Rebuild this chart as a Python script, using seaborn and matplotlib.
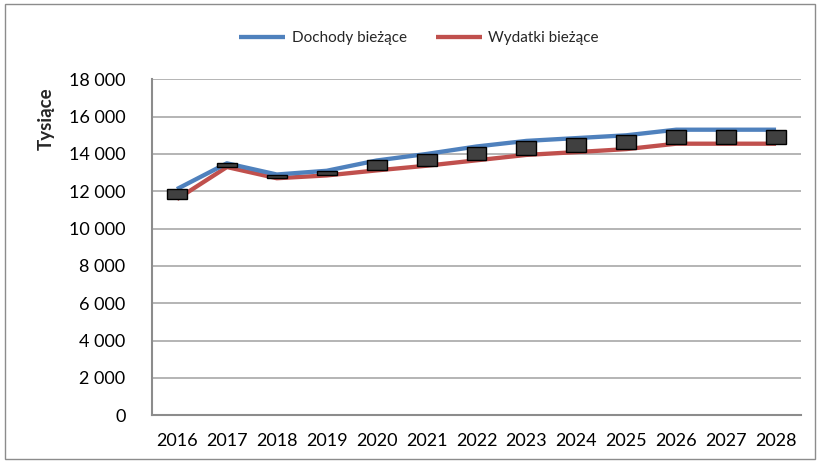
import numpy as np
import matplotlib
matplotlib.use("Agg")
import matplotlib.pyplot as plt
from matplotlib.patches import Rectangle
from matplotlib.ticker import FuncFormatter
import seaborn as sns

# Data
years = ["2016", "2017", "2018", "2019", "2020", "2021", "2022",
         "2023", "2024", "2025", "2026", "2027", "2028"]
dochody = [12120, 13500, 12900, 13100, 13650, 14000, 14400,
           14700, 14850, 15000, 15300, 15300, 15300]
wydatki = [11580, 13300, 12700, 12850, 13120, 13370, 13660,
           13950, 14100, 14260, 14550, 14550, 14550]

sns.set_style("white")
plt.rcParams["font.family"] = ["Lato", "DejaVu Sans"]

blue = "#4F81BD"
red = "#C0504D"
grid_c = "#A0A0A0"

fig = plt.figure(figsize=(8.21, 4.65), dpi=100)
ax = fig.add_axes([152 / 821, 1 - 415.3 / 465, (801 - 152) / 821, (415.3 - 79.3) / 465])

x = np.arange(len(years))
sns.lineplot(x=x, y=dochody, ax=ax, color=blue, lw=3.1, label="Dochody bieżące",
             solid_capstyle="butt", zorder=3)
sns.lineplot(x=x, y=wydatki, ax=ax, color=red, lw=3.1, label="Wydatki bieżące",
             solid_capstyle="butt", zorder=2)

# up-down bars between the two series
diff = np.array(dochody) - np.array(wydatki)
ax.bar(x, diff, bottom=wydatki, width=0.4, color="#404040",
       edgecolor="black", linewidth=1.0, zorder=4)

ax.set_xlim(-0.5, len(years) - 0.5)
ax.set_ylim(0, 18000)
ax.set_yticks(np.arange(0, 18001, 2000))
ax.yaxis.set_major_formatter(FuncFormatter(lambda v, p: f"{int(v):,}".replace(",", " ")))
ax.yaxis.grid(True, color=grid_c, lw=1.1)
ax.set_axisbelow(True)

ax.set_xticks(np.arange(-0.5, len(years)), labels=[])
ax.set_xticks(x, labels=years, minor=True)
ax.tick_params(axis="x", which="major", length=5, width=1, color=grid_c, direction="out")
ax.tick_params(axis="x", which="minor", length=0, pad=13, labelsize=13, labelcolor="black")
ax.tick_params(axis="y", length=5, width=1, color=grid_c, direction="out", pad=14,
               labelsize=13, labelcolor="black")

for s in ["top", "right"]:
    ax.spines[s].set_visible(False)
for s in ["left", "bottom"]:
    ax.spines[s].set_color("#8C8C8C")
    ax.spines[s].set_linewidth(1.5)

ax.set_ylabel("")
fig.text(46.5 / 821, 1 - 119 / 465, "Tysiące", rotation=90, ha="center", va="center",
         fontsize=13.5, fontweight="bold")

ax.get_legend().remove()
h, l = ax.get_legend_handles_labels()
fig.legend(h, l, loc="center", bbox_to_anchor=(419 / 821, 1 - 38 / 465), ncol=2,
           frameon=False, fontsize=11, handlelength=3.0, handletextpad=0.45,
           columnspacing=1.9)

# chart border
fig.patches.append(Rectangle((5 / 821, 1 - 459 / 465), 810 / 821, 455 / 465,
                             transform=fig.transFigure, fill=False,
                             edgecolor="#8C8C8C", lw=1))

fig.savefig("out.png", dpi=100)
